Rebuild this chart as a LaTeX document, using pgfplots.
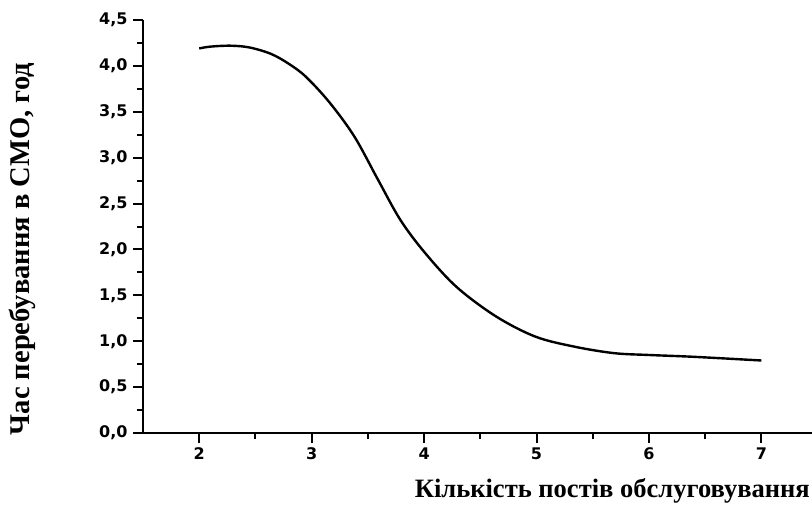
\documentclass[border=0pt]{standalone}
\usepackage{fontspec}
\setmainfont{Liberation Serif}
\newfontfamily\tickfont{DejaVu Sans}
\usepackage{pgfplots}
\pgfplotsset{compat=1.18}
\begin{document}
\begin{tikzpicture}
\begin{axis}[
  at={(0pt,0pt)}, anchor=south west,
  scale only axis, width=669pt, height=413pt,
  xmin=1.5, xmax=7.45, ymin=0, ymax=4.5,
  axis x line=bottom, axis y line=left,
  axis line style={-, line width=2.4pt},
  xtick={2,3,4,5,6,7}, ytick={0,0.5,1,1.5,2,2.5,3,3.5,4,4.5},
  minor x tick num=1, minor y tick num=1,
  tick align=outside,
  major tick length=10pt, minor tick length=6pt,
  every tick/.style={black, line width=2pt},
  tick label style={font=\tickfont\bfseries\fontsize{16}{16}\selectfont},
  /pgf/number format/assume math mode=true,
  yticklabel style={xshift=-2pt, /pgf/number format/.cd, fixed, fixed zerofill, precision=1, use comma},
  xticklabel style={yshift=-1pt},
  clip=false,
]
\addplot[black, line width=2.4pt, smooth, tension=0.55] coordinates {
 (2.0,4.19) (2.1,4.21) (2.28,4.22) (2.45,4.20) (2.64,4.13) (2.8,4.02) (2.95,3.88) (3.16,3.60) (3.38,3.23) (3.59,2.76) (3.79,2.32) (4.01,1.96) (4.29,1.59) (4.64,1.27) (4.99,1.05) (5.34,0.94) (5.69,0.87) (6.0,0.85) (6.40,0.83) (7.0,0.79)
};
\end{axis}
\node[anchor=base east, inner sep=0pt] at (667pt,-64pt) {\resizebox{395pt}{!}{\bfseries Кількість постів обслуговування}};
\node[rotate=90, inner sep=0pt] at (-121pt,184pt) {\resizebox{372pt}{!}{\bfseries Час перебування в СМО, год}};
\pgfresetboundingbox
\path (-143pt,-71pt) rectangle (669pt,433pt);
\end{tikzpicture}
\end{document}
